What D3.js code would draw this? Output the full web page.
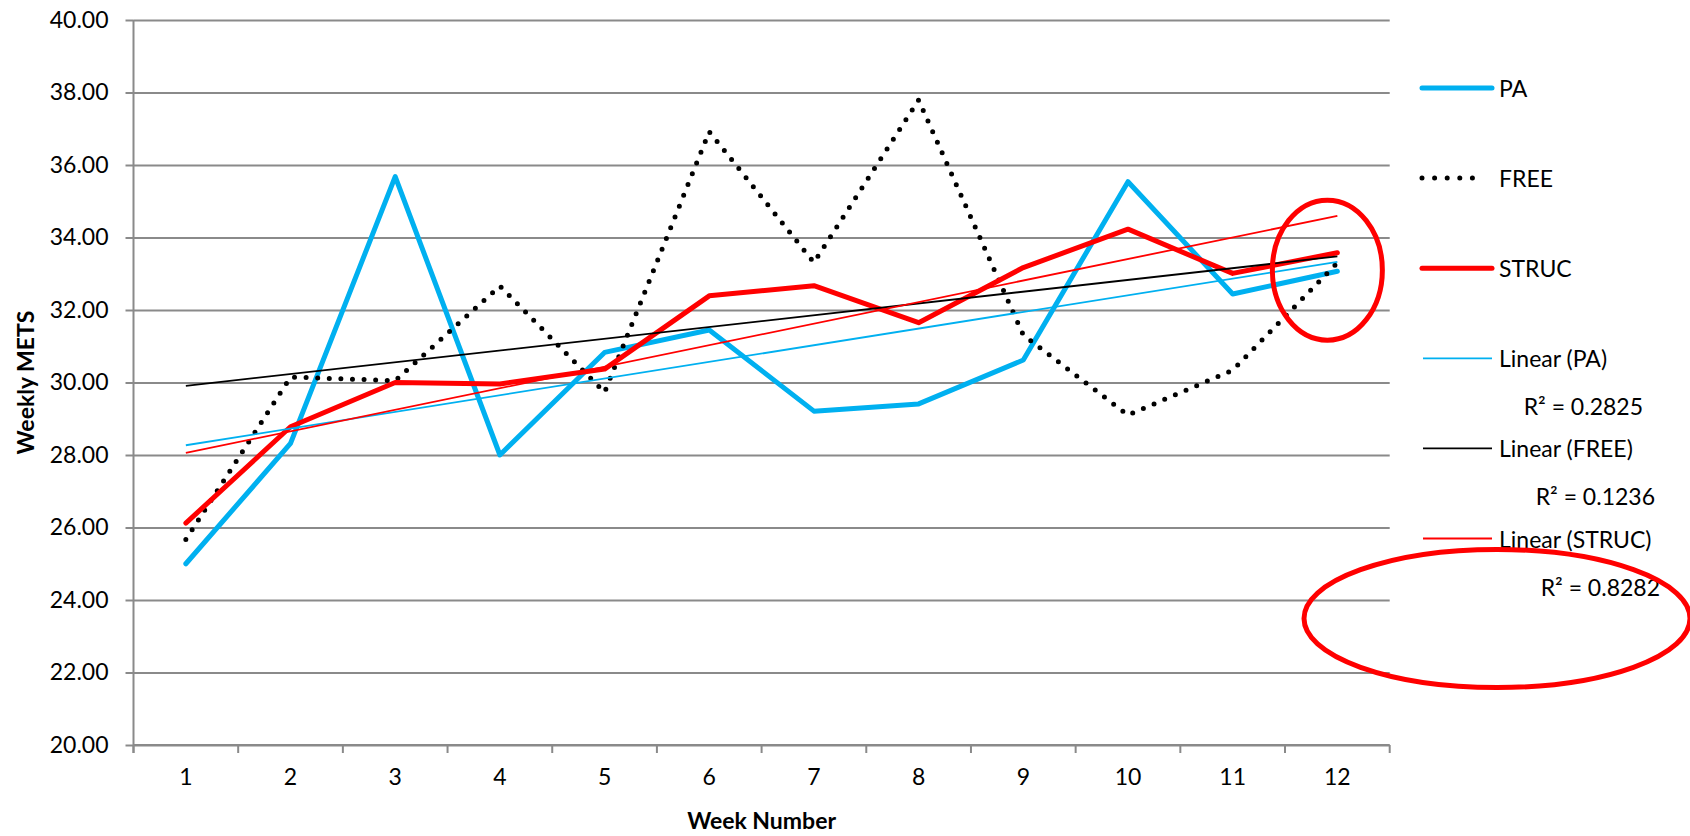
<!DOCTYPE html>
<html>
<head>
<meta charset="utf-8">
<script src="https://cdn.jsdelivr.net/npm/d3@7"></script>
<style>
  html, body { margin: 0; padding: 0; background: #fff; }
  svg text { font-family: "Lato", "Open Sans", sans-serif; fill: #000; }
  .axis path { display: none; }
  .axis line { stroke: #8a8a8a; stroke-width: 2; }
</style>
</head>
<body>
<div id="chart"></div>
<script>
// Weekly METS per week
var weeks = [1, 2, 3, 4, 5, 6, 7, 8, 9, 10, 11, 12];
var paValues = [25.00, 28.32, 35.68, 28.00, 30.83, 31.45, 29.21, 29.41, 30.62, 35.54, 32.44, 33.07];
var freeValues = [25.67, 30.15, 30.05, 32.66, 29.73, 36.92, 33.31, 37.79, 31.31, 29.10, 30.34, 33.30];
var strucValues = [26.12, 28.78, 30.00, 29.96, 30.37, 32.39, 32.67, 31.65, 33.17, 34.23, 33.01, 33.58];
var yTicks = [20, 22, 24, 26, 28, 30, 32, 34, 36, 38, 40];
var seriesNames = ["PA", "FREE", "STRUC"];
var trendNames = ["Linear (PA)", "Linear (FREE)", "Linear (STRUC)"];
var r2Labels = ["R\u00b2 = 0.2825", "R\u00b2 = 0.1236", "R\u00b2 = 0.8282"];

(function () {
    "use strict";

    var W = 1690, H = 836;
    var FS = "23px";
    var margin = { top: 20, right: 300, bottom: 91, left: 133.5 };
    var width = 1389.7 - margin.left;
    var height = H - margin.top - margin.bottom;

    var svg = d3.select("#chart").append("svg")
        .attr("width", W)
        .attr("height", H);

    var g = svg.append("g")
        .attr("transform", "translate(" + margin.left + "," + margin.top + ")");

    var x = d3.scaleBand().domain(weeks).range([0, width]).padding(0);
    var y = d3.scaleLinear().domain([20, 40]).range([height, 0]);
    function xc(w) { return x(w) + x.bandwidth() / 2; }

    // Grid + y axis
    g.append("g")
        .attr("class", "axis grid")
        .call(d3.axisLeft(y).tickValues(yTicks).tickSize(-width).tickFormat(""));

    g.append("g")
        .attr("class", "axis y-axis")
        .call(d3.axisLeft(y).tickValues(yTicks).tickSize(8).tickPadding(17)
            .tickFormat(d3.format(".2f")))
        .selectAll("text").style("font-size", FS);

    g.append("line")
        .attr("x1", 0).attr("x2", 0).attr("y1", 0).attr("y2", height + 8)
        .attr("stroke", "#8a8a8a").attr("stroke-width", 2);

    // X axis: labels centred in bands, ticks on band boundaries
    var xAxis = g.append("g")
        .attr("class", "axis x-axis")
        .attr("transform", "translate(0," + height + ")")
        .call(d3.axisBottom(x).tickSize(0).tickPadding(24));
    xAxis.selectAll("text").style("font-size", FS);

    g.append("line")
        .attr("x1", 0).attr("x2", width).attr("y1", height).attr("y2", height)
        .attr("stroke", "#8a8a8a").attr("stroke-width", 2);

    g.selectAll(".xb-tick")
        .data(weeks.concat([null]))
        .enter().append("line")
        .attr("class", "xb-tick")
        .attr("x1", function (d) { return d === null ? width : x(d); })
        .attr("x2", function (d) { return d === null ? width : x(d); })
        .attr("y1", height).attr("y2", height + 8)
        .attr("stroke", "#8a8a8a").attr("stroke-width", 2);

    // Axis titles
    svg.append("text")
        .attr("transform", "translate(25," + (margin.top + height / 2) + ") rotate(-90)")
        .attr("text-anchor", "middle")
        .attr("dominant-baseline", "central")
        .style("font-size", FS).style("font-weight", "bold")
        .text("Weekly METS");

    svg.append("text")
        .attr("x", margin.left + width / 2)
        .attr("y", 820)
        .attr("text-anchor", "middle")
        .attr("dominant-baseline", "central")
        .style("font-size", FS).style("font-weight", "bold")
        .text("Week Number");

    var series = [
        { name: seriesNames[0], values: paValues, color: "#00b0f0", dash: null },
        { name: seriesNames[1], values: freeValues, color: "#000", dash: "0 11.6" },
        { name: seriesNames[2], values: strucValues, color: "#ff0000", dash: null }
    ];

    var line = d3.line()
        .x(function (d) { return xc(d.week); })
        .y(function (d) { return y(d.value); });

    series.forEach(function (s) {
        s.points = weeks.map(function (w, i) { return { week: w, value: s.values[i] }; });
        g.append("path")
            .datum(s.points)
            .attr("d", line)
            .attr("fill", "none")
            .attr("stroke", s.color)
            .attr("stroke-width", 5)
            .attr("stroke-linecap", "round")
            .attr("stroke-linejoin", "round")
            .attr("stroke-dasharray", s.dash);
    });

    // Least-squares trend per series (as Excel's linear trendline)
    function fit(vals) {
        var mx = d3.mean(weeks), my = d3.mean(vals);
        var sxy = d3.sum(weeks, function (w, i) { return (w - mx) * (vals[i] - my); });
        var sxx = d3.sum(weeks, function (w) { return (w - mx) * (w - mx); });
        var b = sxy / sxx;
        return function (w) { return my + b * (w - mx); };
    }

    series.forEach(function (s) {
        var f = fit(s.values);
        var ends = [weeks[0], weeks[weeks.length - 1]].map(function (w) {
            return { week: w, value: f(w) };
        });
        g.append("path")
            .datum(ends)
            .attr("d", line)
            .attr("fill", "none")
            .attr("stroke", s.color)
            .attr("stroke-width", 1.8);
    });

    // Legend
    var lgX0 = 1422, lgX1 = 1492, lgText = 1499, lgY0 = 88, lgStep = 90.1;
    var legend = svg.append("g").attr("class", "legend");

    series.forEach(function (s, i) {
        var ly = lgY0 + i * lgStep;
        legend.append("line")
            .attr("x1", lgX0).attr("x2", s.dash ? lgX0 + 63 : lgX1)
            .attr("y1", ly).attr("y2", ly)
            .attr("stroke", s.color).attr("stroke-width", 5)
            .attr("stroke-linecap", "round")
            .attr("stroke-dasharray", s.dash ? "0 12.6" : null);
        legend.append("text")
            .attr("x", lgText).attr("y", ly)
            .attr("dominant-baseline", "central")
            .style("font-size", FS)
            .text(s.name);
    });

    var r2Right = [1643, 1655, 1660];
    series.forEach(function (s, i) {
        var ly = lgY0 + (i + 3) * lgStep;
        legend.append("line")
            .attr("x1", lgX0 + 1).attr("x2", lgX1)
            .attr("y1", ly).attr("y2", ly)
            .attr("stroke", s.color).attr("stroke-width", 1.8);
        legend.append("text")
            .attr("x", lgText).attr("y", ly)
            .attr("dominant-baseline", "central")
            .style("font-size", FS)
            .text(trendNames[i]);
        legend.append("text")
            .attr("x", r2Right[i]).attr("y", ly + 48)
            .attr("text-anchor", "end")
            .attr("dominant-baseline", "central")
            .style("font-size", FS)
            .text(r2Labels[i]);
    });

    // Red hand-drawn highlight rings
    g.append("ellipse")
        .attr("cx", xc(12) - 10).attr("cy", y(33.1))
        .attr("rx", 55).attr("ry", 70)
        .attr("fill", "none").attr("stroke", "#ff0000").attr("stroke-width", 5);

    svg.append("ellipse")
        .attr("cx", 1497).attr("cy", lgY0 + 5 * lgStep + 80)
        .attr("rx", 193).attr("ry", 69)
        .attr("fill", "none").attr("stroke", "#ff0000").attr("stroke-width", 5);
})();
</script>
</body>
</html>
